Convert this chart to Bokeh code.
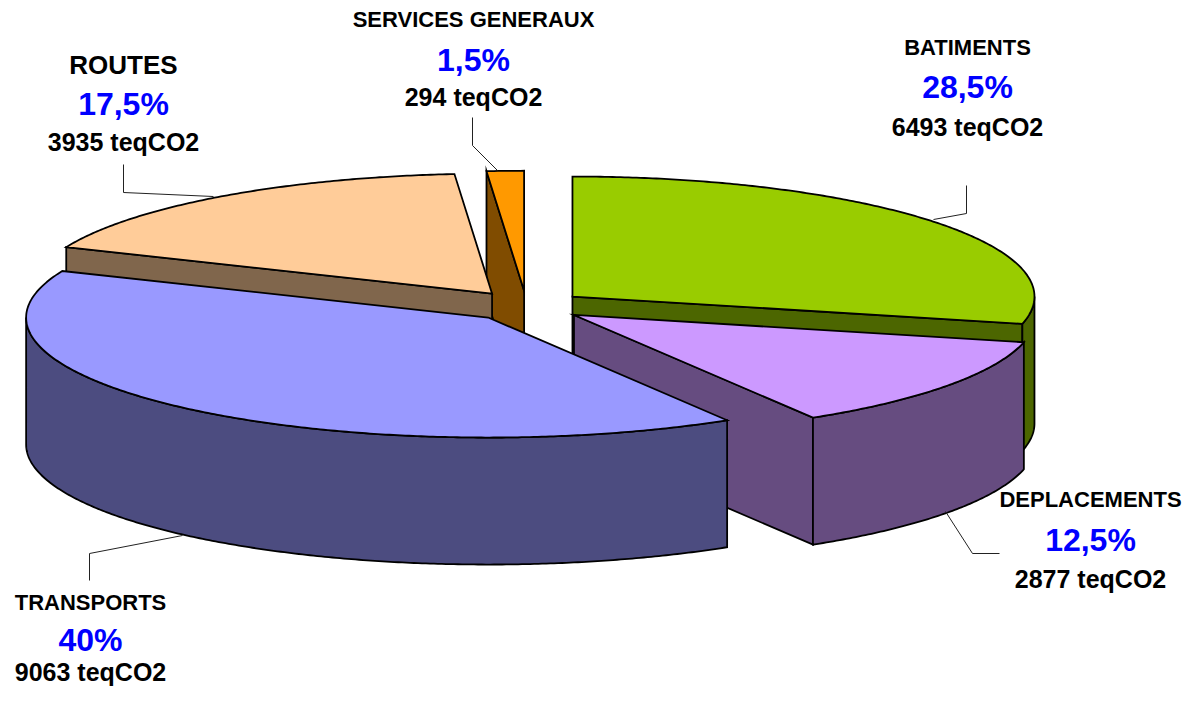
import numpy as np
from bokeh.plotting import figure
from bokeh.models import Range1d
from bokeh.core.properties import value
from bokeh.embed import file_html
from bokeh.resources import INLINE

# ---------------- data ----------------
categories = ["BATIMENTS", "DEPLACEMENTS", "TRANSPORTS", "ROUTES", "SERVICES GENERAUX"]
emissions = [6493, 2877, 9063, 3935, 294]          # teqCO2
pct_labels = ["28,5%", "12,5%", "40%", "17,5%", "1,5%"]
value_labels = [f"{v} teqCO2" for v in emissions]
top_colors = ["#99CC00", "#CC99FF", "#9999FF", "#FFCC99", "#FF9900"]
side_colors = ["#4C6600", "#664C80", "#4C4C80", "#80664C", "#804C00"]

# ---------------- layout (picture pixels) ----------------
CX, CY = 526.0, 305.5      # pie centre
RX, RY = 462.0, 120.0      # ellipse radii of the top face
DEPTH = 127.0              # thickness of the pie
EXPLODE = 0.127            # explosion fraction

# label layout: x, name baseline, pct baseline, value baseline, name size
label_layout = {
    "BATIMENTS": (967, 55, 98, 135, 22),
    "DEPLACEMENTS": (1090, 507, 551, 587, 22),
    "TRANSPORTS": (90, 610, 651, 680, 22),
    "ROUTES": (123, 74, 115, 150, 26),
    "SERVICES GENERAUX": (473, 27, 71, 105, 22),
}
PCT_SIZE, VAL_SIZE = 32, 25
leader_xs = [[966, 966, 933], [945, 972, 999], [89, 89, 182], [123, 123, 213], [472, 472, 497]]
leader_ys = [[185, 213, 219], [511, 553, 553], [580, 553, 535], [164, 192, 196], [117, 145, 170]]

p = figure(width=1184, height=687, output_backend="svg", toolbar_location=None,
           x_range=Range1d(0, 1184), y_range=Range1d(687, 0),
           x_axis_type=None, y_axis_type=None, min_border=0)
p.grid.visible = False
p.outline_line_color = None
p.background_fill_color = "white"

total = float(sum(emissions))
bounds = np.concatenate([[0.0], np.cumsum([v / total * 360.0 for v in emissions])])


def rim(cx, cy, th):
    t = np.radians(th)
    return cx + RX * np.sin(t), cy - RY * np.cos(t)


def arc(cx, cy, a0, a1):
    n = max(int(abs(a1 - a0) * 2) + 2, 3)
    th = np.linspace(a0, a1, n)
    x, y = rim(cx, cy, th)
    return list(x), list(y)


slices = []
for i in range(len(emissions)):
    a0, a1 = bounds[i], bounds[i + 1]
    mid = 0.5 * (a0 + a1)
    slices.append((np.cos(np.radians(mid)), i, a0, a1, mid))
slices.sort(key=lambda s: -s[0])   # back first

xs, ys, fills = [], [], []
for _, i, a0, a1, mid in slices:
    ox, oy = rim(0, 0, mid)
    cx, cy = CX + EXPLODE * ox, CY + EXPLODE * oy
    # radial faces
    if np.sin(np.radians(a0)) < -1e-9:
        rx_, ry_ = rim(cx, cy, a0)
        xs.append([cx, rx_, rx_, cx]); ys.append([cy, ry_, ry_ + DEPTH, cy + DEPTH]); fills.append(side_colors[i])
    if np.sin(np.radians(a1)) > 1e-9:
        rx_, ry_ = rim(cx, cy, a1)
        xs.append([cx, rx_, rx_, cx]); ys.append([cy, ry_, ry_ + DEPTH, cy + DEPTH]); fills.append(side_colors[i])
    # outer visible side
    s0, s1 = max(a0, 90.0), min(a1, 270.0)
    if s1 > s0:
        ax, ay = arc(cx, cy, s0, s1)
        sx = ax + ax[::-1]
        sy = ay + [y + DEPTH for y in ay[::-1]]
        xs.append(sx); ys.append(sy); fills.append(side_colors[i])
    # top face
    ax, ay = arc(cx, cy, a0, a1)
    xs.append([cx] + ax); ys.append([cy] + ay); fills.append(top_colors[i])

p.patches(xs=xs, ys=ys, fill_color=fills, line_color="black", line_width=1.8, line_join="miter")

p.multi_line(xs=leader_xs, ys=leader_ys, line_color="#222222", line_width=1)

font = value("Liberation Sans")
MID = 0.35  # cap centre above baseline, in em


def label(x, yb, txt, size, color):
    p.text(x=[x], y=[yb - MID * size], text=[txt], text_font=font, text_font_style="bold",
           text_font_size=f"{size}px", text_align="center", text_baseline="middle", text_color=color)


for i, cat in enumerate(categories):
    x, yn, yp, yv, ns = label_layout[cat]
    label(x, yn, cat, ns, "black")
    label(x, yp, pct_labels[i], PCT_SIZE, "#0000FF")
    label(x, yv, value_labels[i], VAL_SIZE, "black")

open("out.html", "w").write(file_html(p, INLINE))
